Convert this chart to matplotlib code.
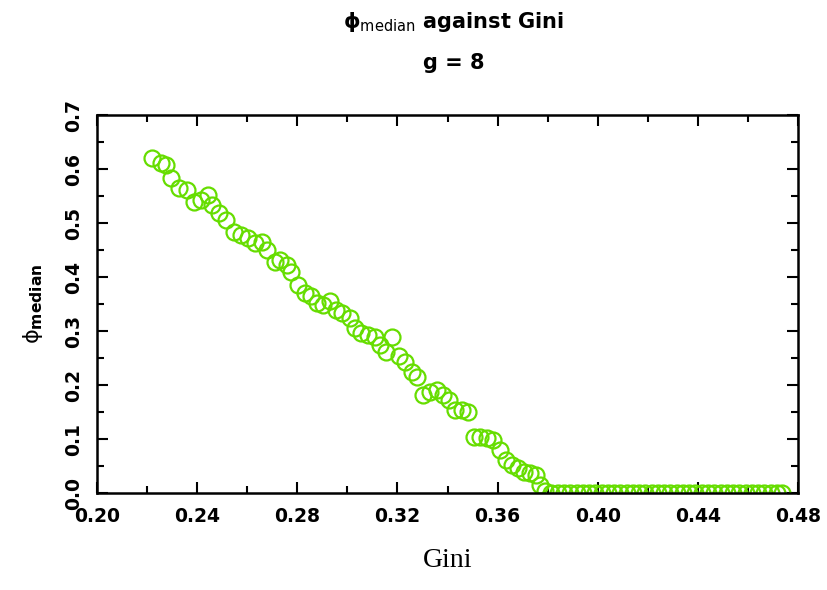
import numpy as np
import matplotlib
matplotlib.use("Agg")
import matplotlib.pyplot as plt
from matplotlib.ticker import MultipleLocator, FormatStrFormatter

# data
gini = [0.2220, 0.2256, 0.2276, 0.2296, 0.2328, 0.2360, 0.2388, 0.2416, 0.2444, 0.2460,
        0.2488, 0.2516, 0.2548, 0.2576, 0.2604, 0.2632, 0.2660, 0.2680, 0.2710, 0.2732,
        0.2760, 0.2776, 0.2804, 0.2830, 0.2856, 0.2880, 0.2904, 0.2932, 0.2956, 0.2980,
        0.3010, 0.3032, 0.3056, 0.3084, 0.3110, 0.3132, 0.3156, 0.3180, 0.3208, 0.3232,
        0.3260, 0.3280, 0.3304, 0.3330, 0.3356, 0.3380, 0.3404, 0.3430, 0.3456, 0.3480,
        0.3504, 0.3528, 0.3556, 0.3580, 0.3608, 0.3632, 0.3656, 0.3680, 0.3704, 0.3728,
        0.3752, 0.3768, 0.3790]
phi = [0.620, 0.611, 0.607, 0.583, 0.565, 0.561, 0.539, 0.543, 0.552, 0.533,
       0.519, 0.506, 0.483, 0.478, 0.472, 0.463, 0.465, 0.450, 0.428, 0.431,
       0.422, 0.409, 0.385, 0.370, 0.365, 0.352, 0.348, 0.356, 0.339, 0.333,
       0.324, 0.306, 0.296, 0.293, 0.289, 0.274, 0.261, 0.289, 0.254, 0.243,
       0.224, 0.215, 0.181, 0.187, 0.191, 0.181, 0.172, 0.154, 0.154, 0.150,
       0.104, 0.104, 0.102, 0.098, 0.080, 0.061, 0.052, 0.046, 0.039, 0.037,
       0.033, 0.015, 0.005]
gini_zero = [0.3815, 0.3840, 0.3865, 0.3890, 0.3915, 0.3940, 0.3965, 0.3990, 0.4015, 0.4040,
             0.4065, 0.4090, 0.4115, 0.4140, 0.4165, 0.4190, 0.4215, 0.4240, 0.4265, 0.4290,
             0.4315, 0.4340, 0.4365, 0.4390, 0.4415, 0.4440, 0.4465, 0.4490, 0.4515, 0.4540,
             0.4565, 0.4590, 0.4615, 0.4640, 0.4665, 0.4690, 0.4715, 0.4735]
phi_zero = [0.0] * len(gini_zero)

green = "#66dd00"

fig = plt.figure(figsize=(8.28, 5.90), dpi=100)
ax = fig.add_axes([0.117, 0.164, 0.847, 0.641])

ax.plot(gini + gini_zero, phi + phi_zero, "o", ms=11.5, mfc="none", mec=green, mew=1.6)

ax.set_xlim(0.20, 0.48)
ax.set_ylim(0.0, 0.7)
ax.xaxis.set_major_locator(MultipleLocator(0.04))
ax.xaxis.set_minor_locator(MultipleLocator(0.02))
ax.yaxis.set_major_locator(MultipleLocator(0.1))
ax.yaxis.set_minor_locator(MultipleLocator(0.05))
ax.xaxis.set_major_formatter(FormatStrFormatter("%.2f"))
ax.yaxis.set_major_formatter(FormatStrFormatter("%.1f"))
ax.tick_params(which="both", direction="in", top=True, right=True, width=1.5)
ax.tick_params(which="major", length=8, pad=10)
ax.tick_params(which="minor", length=5)
for lab in ax.get_xticklabels() + ax.get_yticklabels():
    lab.set_fontweight("bold")
    lab.set_fontsize(13.5)
for lab in ax.get_yticklabels():
    lab.set_rotation(90)
    lab.set_va("center")
for sp in ax.spines.values():
    sp.set_linewidth(1.8)

ax.set_xlabel("Gini", family="Liberation Serif", fontsize=20, labelpad=16)
ax.set_ylabel(r"ϕ$_{\mathbf{median}}$", fontsize=16, labelpad=14)
fig.text(0.548, 0.962, r"ϕ$_{\mathrm{median}}$ against Gini", ha="center", va="center",
         fontsize=15, fontweight="bold")
fig.text(0.548, 0.893, "g = 8", ha="center", va="center", fontsize=15, fontweight="bold")

fig.savefig("out.png", dpi=100)
